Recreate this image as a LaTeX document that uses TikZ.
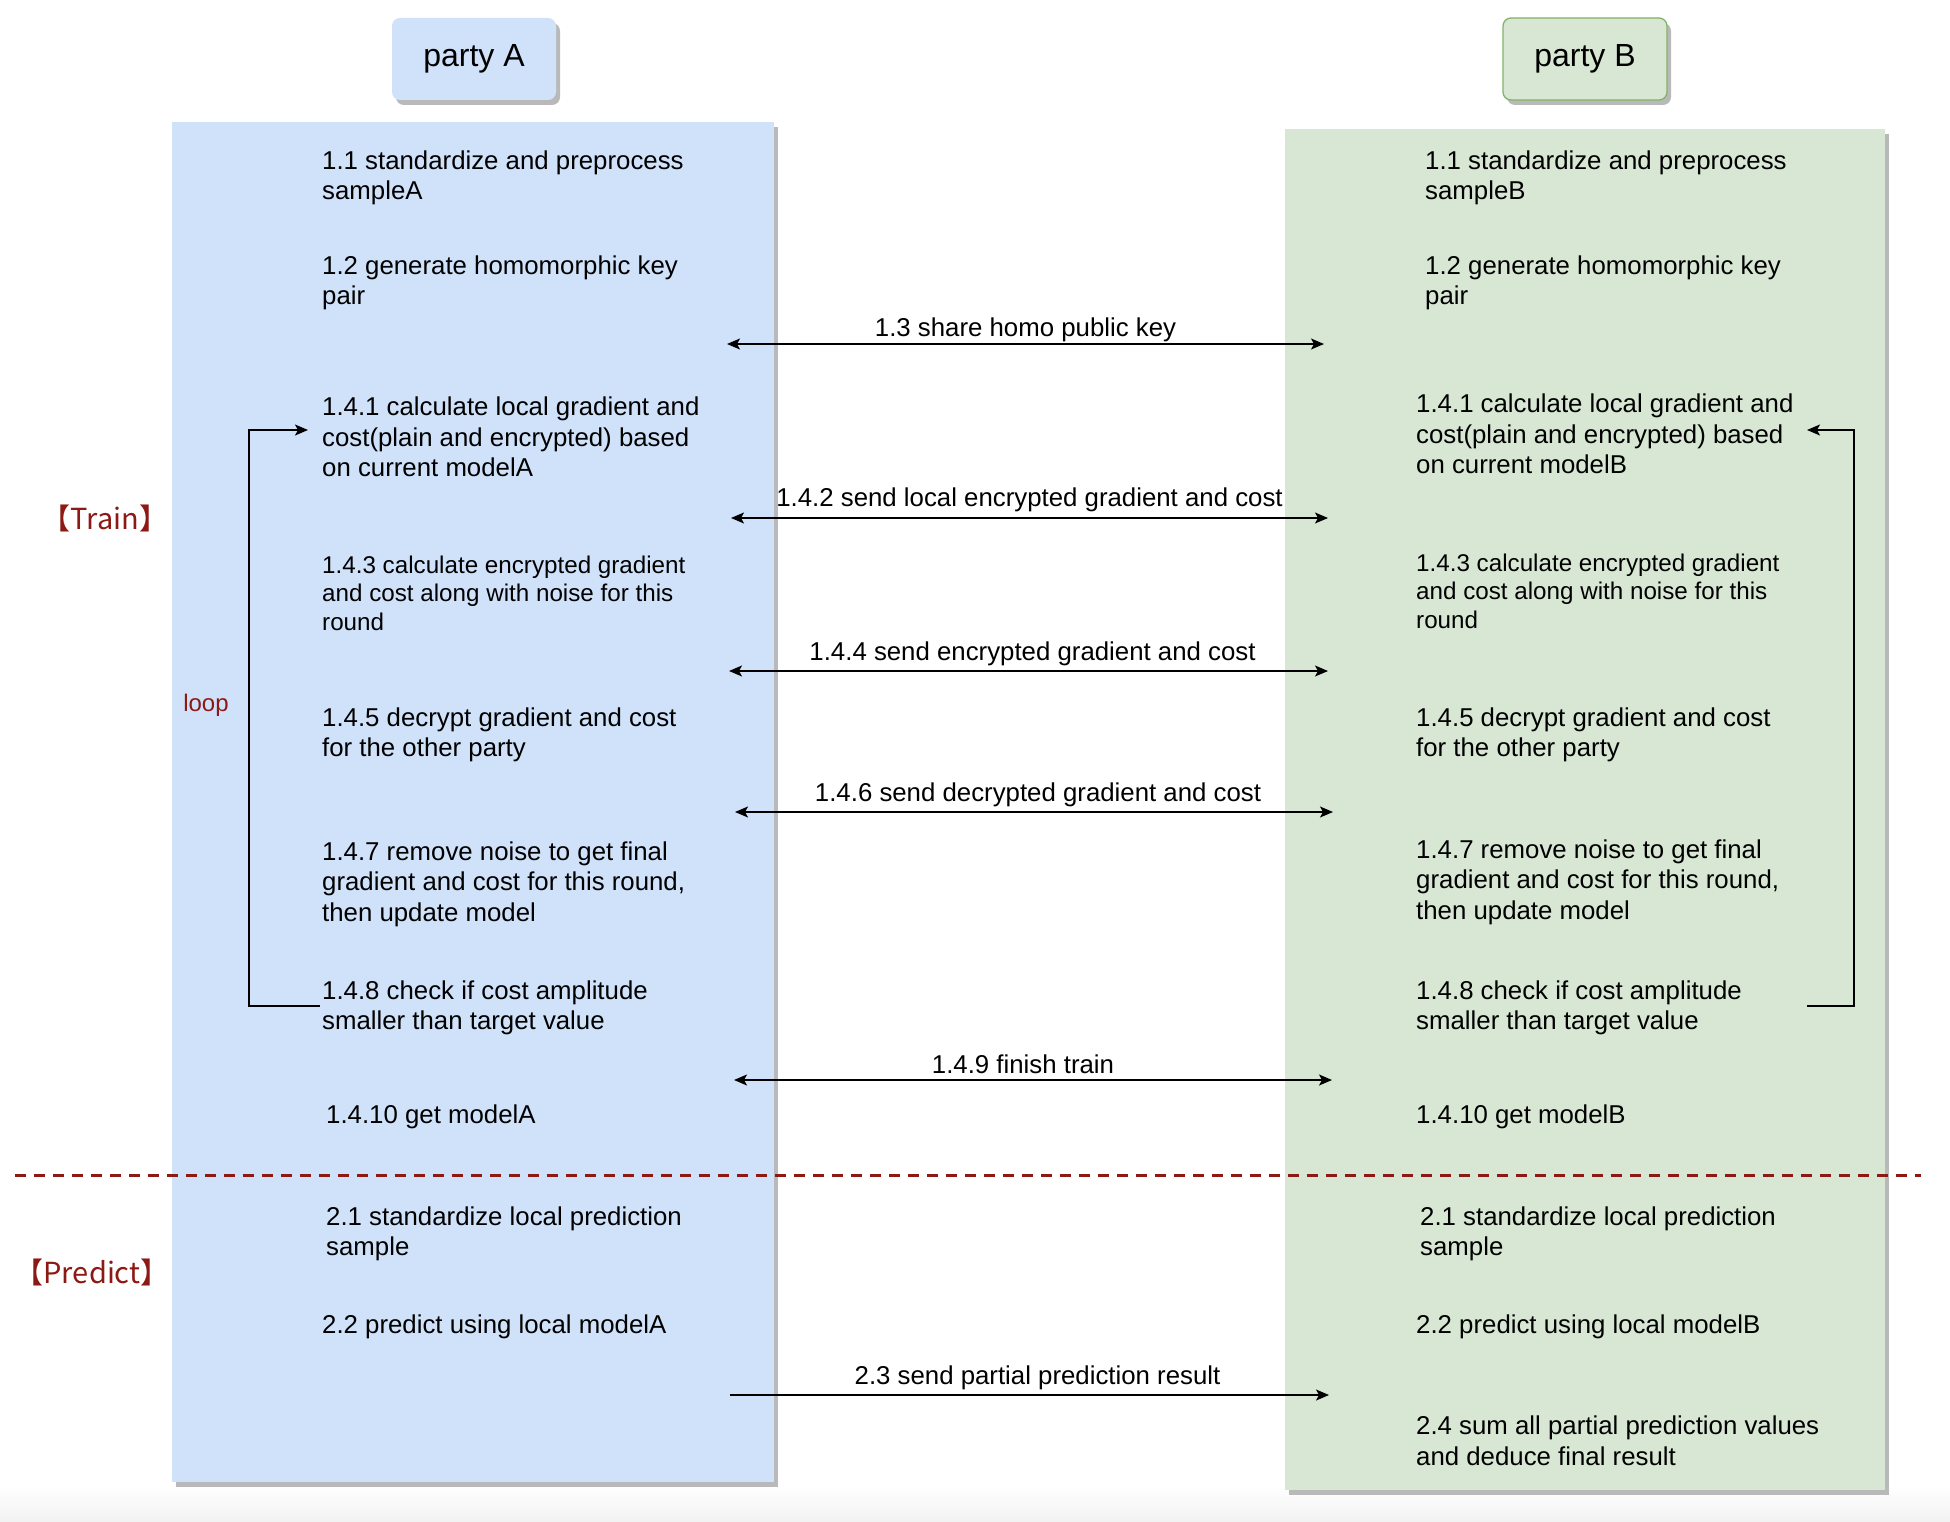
\documentclass[tikz,border=0pt]{standalone}
\usepackage{fontspec}
\setmainfont{Liberation Sans}
\newfontfamily\cjkfont{Noto Sans CJK SC}
\usetikzlibrary{arrows.meta,shadows}
\definecolor{blueA}{RGB}{208,226,249}
\definecolor{greenB}{RGB}{215,231,212}
\definecolor{greenE}{RGB}{130,179,102}
\definecolor{darkred}{RGB}{140,25,20}
\definecolor{shadowc}{RGB}{185,185,185}
\begin{document}
\begin{tikzpicture}[x=1pt,y=-1pt,
  >={Stealth[length=13pt,width=11pt,inset=3pt]},
  txt/.style={font=\fontsize{25.8}{30.5}\selectfont, align=left, inner sep=0pt, anchor=west, yshift=-3pt},
  txts/.style={font=\fontsize{24.2}{28.6}\selectfont, align=left, inner sep=0pt, anchor=west, yshift=-2pt},
  lbl/.style={font=\fontsize{25.8}{30.5}\selectfont, inner sep=0pt, anchor=base},
  conn/.style={line width=1.4pt, black},
  shad/.style={drop shadow={shadow xshift=4pt,shadow yshift=-5pt,fill=shadowc,opacity=1}},
  panel/.style={shad, draw=none, anchor=north west, inner sep=0pt},
  partybox/.style={shad, rounded corners=8pt, minimum width=164pt, minimum height=82pt, font=\fontsize{32}{36}\selectfont, inner sep=0pt},
  redlbl/.style={text=darkred, inner sep=0pt}
]
\useasboundingbox (0,0) rectangle (1950,1522);
\fill[white] (0,0) rectangle (1950,1522);
\shade[top color=white, bottom color={rgb,255:red,242;green,242;blue,242}] (0,1486) rectangle (1950,1522);

% panels
\node[panel, fill=blueA, minimum width=602pt, minimum height=1360pt] (panA) at (172,122) {};
\node[panel, fill=greenB, minimum width=600pt, minimum height=1361pt] (panB) at (1285,129) {};

% party headers
\node[partybox, fill=blueA, draw=none] (pA) at (474,59) {party A};
\node[partybox, fill=greenB, draw=greenE, line width=1.3pt] (pB) at (1585,59) {party B};

% side labels
\node[redlbl, font=\cjkfont\fontsize{29}{32}\selectfont] (train) at (105,518) {【Train】};
\node[redlbl, font=\cjkfont\fontsize{29}{32}\selectfont] (predict) at (92,1272) {【Predict】};
\node[redlbl, font=\fontsize{24}{28}\selectfont] (loop) at (206,705) {loop};

% party A texts
\node[txt] (a11) at (322,175) {1.1 standardize and preprocess\\sampleA};
\node[txt] (a12) at (322,280) {1.2 generate homomorphic key\\pair};
\node[txt] (a141) at (322,434) {1.4.1 calculate local gradient and\\cost(plain and encrypted) based\\on current modelA};
\node[txts] (a143) at (322,591) {1.4.3 calculate encrypted gradient\\and cost along with noise for this\\round};
\node[txt] (a145) at (322,732) {1.4.5 decrypt gradient and cost\\for the other party};
\node[txt] (a147) at (322,881) {1.4.7 remove noise to get final\\gradient and cost for this round,\\then update model};
\node[txt] (a148) at (322,1005) {1.4.8 check if cost amplitude\\smaller than target value};
\node[txt] (a1410) at (326,1114) {1.4.10 get modelA};
\node[txt] (a21) at (326,1231) {2.1 standardize local prediction\\sample};
\node[txt] (a22) at (322,1324) {2.2 predict using local modelA};

% party B texts
\node[txt] (b11) at (1425,175) {1.1 standardize and preprocess\\sampleB};
\node[txt] (b12) at (1425,280) {1.2 generate homomorphic key\\pair};
\node[txt] (b141) at (1416,431) {1.4.1 calculate local gradient and\\cost(plain and encrypted) based\\on current modelB};
\node[txts] (b143) at (1416,589) {1.4.3 calculate encrypted gradient\\and cost along with noise for this\\round};
\node[txt] (b145) at (1416,732) {1.4.5 decrypt gradient and cost\\for the other party};
\node[txt] (b147) at (1416,879) {1.4.7 remove noise to get final\\gradient and cost for this round,\\then update model};
\node[txt] (b148) at (1416,1005) {1.4.8 check if cost amplitude\\smaller than target value};
\node[txt] (b1410) at (1416,1114) {1.4.10 get modelB};
\node[txt] (b21) at (1420,1231) {2.1 standardize local prediction\\sample};
\node[txt] (b22) at (1416,1324) {2.2 predict using local modelB};
\node[txt] (b24) at (1416,1438) {2.4 sum all partial prediction values\\and deduce final result};

% message arrows
\coordinate (l13) at (727,344);  \coordinate (r13) at (1324,344);
\coordinate (l142) at (731,518); \coordinate (r142) at (1328,518);
\coordinate (l144) at (729,671); \coordinate (r144) at (1328,671);
\coordinate (l146) at (735,812); \coordinate (r146) at (1333,812);
\coordinate (l149) at (734,1080); \coordinate (r149) at (1332,1080);
\coordinate (l23) at (730,1395); \coordinate (r23) at (1329,1395);

\draw[conn,<->] (l13) -- node[lbl,yshift=8pt] {1.3 share homo public key} (r13);
\draw[conn,<->] (l142) -- node[lbl,yshift=12pt] {1.4.2 send local encrypted gradient and cost} (r142);
\draw[conn,<->] (l144) -- node[lbl,yshift=11pt,xshift=4pt] {1.4.4 send encrypted gradient and cost} (r144);
\draw[conn,<->] (l146) -- node[lbl,yshift=11pt,xshift=4pt] {1.4.6 send decrypted gradient and cost} (r146);
\draw[conn,<->] (l149) -- node[lbl,yshift=7pt,xshift=-10pt] {1.4.9 finish train} (r149);
\draw[conn,->] (l23) -- node[lbl,yshift=11pt,xshift=8pt] {2.3 send partial prediction result} (r23);

% loops
\coordinate (la1) at (249,1006);
\coordinate (la2) at (308,430);
\draw[conn,->] ([xshift=-2pt]a148.west |- la1) -- (la1) |- (la2);
\coordinate (lb0) at (1807,1006);
\coordinate (lb1) at (1854,1006);
\coordinate (lb2) at (1807,430);
\draw[conn,->] (lb0) -- (lb1) |- (lb2);

% separator
\coordinate (s1) at (15,1175);
\coordinate (s2) at (1921,1175);
\draw[darkred, line width=3pt, dash pattern=on 11pt off 8pt] (s1) -- (s2);
\end{tikzpicture}
\end{document}
